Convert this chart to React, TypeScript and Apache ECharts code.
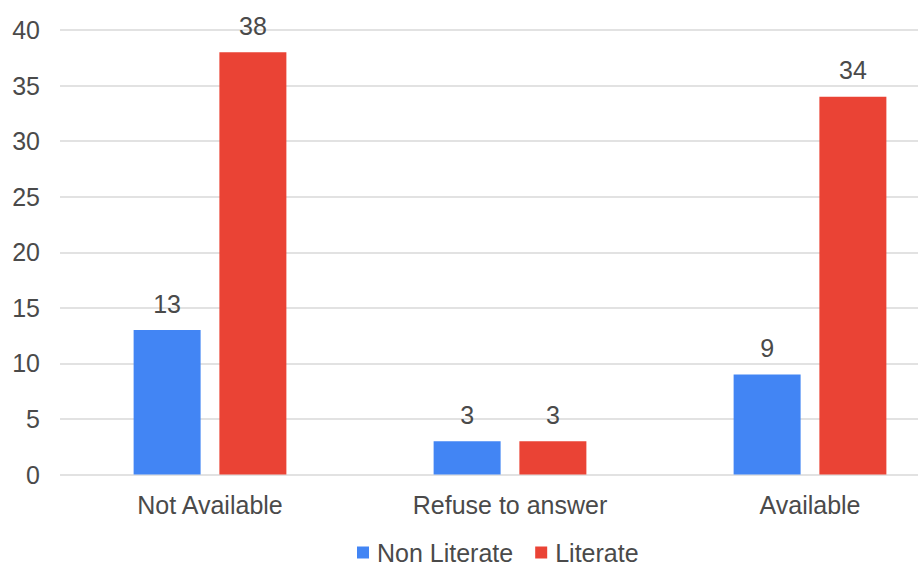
import React, { useEffect, useRef } from "react";
import * as echarts from "echarts";

const categories = ["Not Available", "Refuse to answer", "Available"];
const nonLiterate = [13, 3, 9];
const literate = [38, 3, 34];
const yTicks = { min: 0, max: 40, interval: 5 };

const FONT = "'Liberation Sans', Arial, sans-serif";
const TEXT = "#4a4a4a";
const SIZE = 25;

// The plot runs past the right edge of the visible frame, so the chart
// canvas is wider than the frame that clips it.
const FRAME_W = 918;
const FRAME_H = 565;
const CANVAS_W = 978;

export default function App() {
  const ref = useRef<HTMLDivElement>(null);

  useEffect(() => {
    if (!ref.current) return;
    const chart = echarts.init(ref.current, undefined, { renderer: "svg" });
    const label = {
      show: true,
      position: "top" as const,
      distance: 14,
      color: TEXT,
      fontSize: SIZE,
      fontFamily: FONT,
    };
    chart.setOption({
      animation: false,
      textStyle: { fontFamily: FONT },
      grid: { left: 60, top: 30, width: 900, height: 444.5, containLabel: false },
      legend: {
        top: 540,
        left: 357,
        padding: 0,
        itemWidth: 12,
        itemHeight: 12,
        itemGap: 22,
        icon: "rect",
        textStyle: {
          color: TEXT,
          fontSize: SIZE,
          fontFamily: FONT,
          lineHeight: 24,
          padding: [0, 0, 0, 3],
        },
        data: ["Non Literate", "Literate"],
      },
      xAxis: {
        type: "category",
        data: categories,
        axisLine: { show: false },
        axisTick: { show: false },
        axisLabel: { color: TEXT, fontSize: SIZE, fontFamily: FONT, margin: 18 },
      },
      yAxis: {
        type: "value",
        min: yTicks.min,
        max: yTicks.max,
        interval: yTicks.interval,
        axisLine: { show: false },
        axisTick: { show: false },
        axisLabel: { color: TEXT, fontSize: SIZE, fontFamily: FONT, margin: 20 },
        splitLine: { lineStyle: { color: "#d9d9d9", width: 1.5 } },
      },
      series: [
        {
          name: "Non Literate",
          type: "bar",
          data: nonLiterate,
          barWidth: 67,
          barGap: "28%",
          itemStyle: { color: "#4285F4" },
          label,
        },
        {
          name: "Literate",
          type: "bar",
          data: literate,
          barWidth: 67,
          barGap: "28%",
          itemStyle: { color: "#EA4335" },
          label,
        },
      ],
    });
    return () => chart.dispose();
  }, []);

  return (
    <div
      style={{
        position: "absolute",
        left: 0,
        top: 0,
        width: FRAME_W,
        height: FRAME_H,
        overflow: "hidden",
      }}
    >
      <div ref={ref} style={{ width: CANVAS_W, height: FRAME_H }} />
    </div>
  );
}
